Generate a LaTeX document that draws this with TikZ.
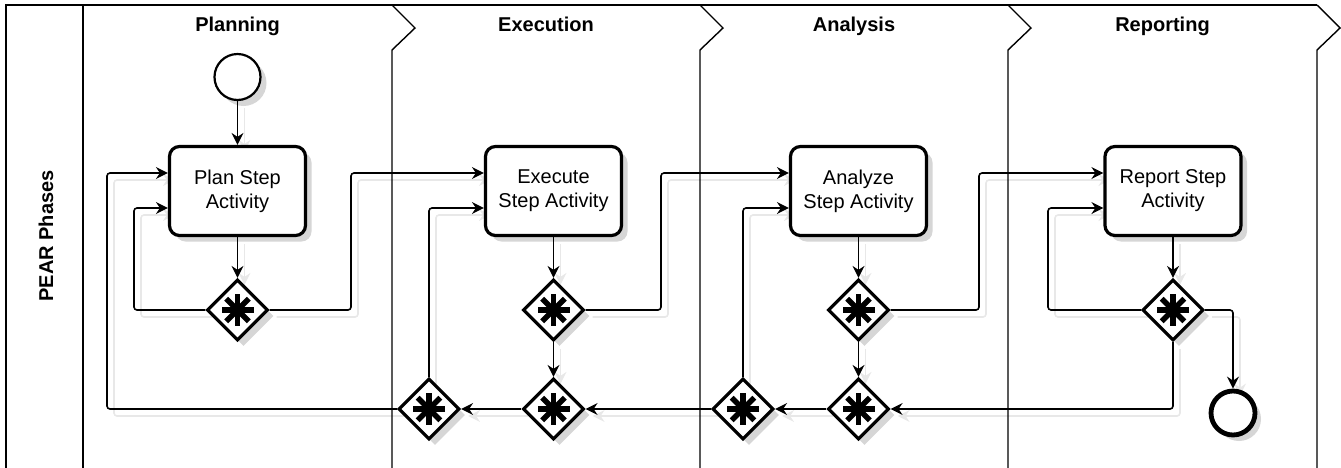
\documentclass[tikz,border=0pt]{standalone}
\usepackage{fontspec}
\setmainfont{Liberation Sans}
\usetikzlibrary{shapes.geometric,shadows,arrows.meta,calc}
\pgfdeclarelayer{bg}
\pgfsetlayers{bg,main}
\tikzset{
  lane/.style={draw=black, line width=1.4pt},
  lanetitle/.style={font=\bfseries\fontsize{20}{24}\selectfont, inner sep=0pt},
  shapeshadow/.style={drop shadow={shadow xshift=6pt, shadow yshift=-6pt, fill=black!16, opacity=1}},
  task/.style={draw, line width=3.2pt, rounded corners=10pt, fill=white, minimum width=136pt, minimum height=89pt,
    inner sep=0pt, align=center, font=\fontsize{20}{24}\selectfont, shapeshadow},
  gw/.style={diamond, draw, line width=3.2pt, fill=white, minimum width=61pt, minimum height=61pt, inner sep=0pt, shapeshadow,
    path picture={\foreach \a in {0,45,90,135}{\draw[line width=5.5pt, line cap=butt] (path picture bounding box.center) ++(\a:16pt) -- ++(\a+180:32pt);}}},
  startev/.style={circle, draw, line width=2.2pt, fill=white, minimum size=46pt, inner sep=0pt, shapeshadow},
  endev/.style={circle, draw, line width=4.8pt, fill=white, minimum size=44pt, inner sep=0pt, shapeshadow},
  conn/.style={line width=1.6pt, rounded corners=3pt, -{Stealth[length=12pt,width=12pt,inset=4pt]}}
}
\newcommand\drawconns[1]{%
  \draw[conn,draw=#1] (start.south) -- (plan.north);
  \draw[conn,draw=#1] (plan.south) -- (g1.north);
  \draw[conn,draw=#1] (g1.west) -| (x1 |- yB) -- (plan.west |- yB);
  \draw[conn,draw=#1] (g1.east) -| (x2 |- yA) -- (exec.west |- yA);
  \draw[conn,draw=#1] (g4.west) -| (x0 |- yA) -- (plan.west |- yA);
  \draw[conn,draw=#1] (g4.north) |- (exec.west |- yB);
  \draw[conn,draw=#1] (exec.south) -- (g2.north);
  \draw[conn,draw=#1] (g2.south) -- (g3.north);
  \draw[conn,draw=#1] (g3.west) -- (g4.east);
  \draw[conn,draw=#1] (g2.east) -| (x3 |- yA) -- (anal.west |- yA);
  \draw[conn,draw=#1] (g7.west) -- (g3.east);
  \draw[conn,draw=#1] (g7.north) |- (anal.west |- yB);
  \draw[conn,draw=#1] (anal.south) -- (g5.north);
  \draw[conn,draw=#1] (g5.south) -- (g6.north);
  \draw[conn,draw=#1] (g6.west) -- (g7.east);
  \draw[conn,draw=#1] (g5.east) -| (x4 |- yA) -- (rep.west |- yA);
  \draw[conn,draw=#1] (g8.south) |- (g6.east);
  \draw[conn,draw=#1] (rep.south) -- (g8.north);
  \draw[conn,draw=#1] (g8.west) -| (x5 |- yB) -- (rep.west |- yB);
  \draw[conn,draw=#1] (g8.east) -| (endev.north);
}
\begin{document}
\begin{tikzpicture}[x=1pt,y=-1pt]
\useasboundingbox (0,0) rectangle (1341,467);
% pool and lanes
\draw[lane] (6,470) -- (6,5) -- (1317,5);
\draw[lane] (83,5) -- (83,470);
\foreach \xr in {392,700,1008,1317}{\draw[lane] (\xr,5) -- (\xr+23,28) -- (\xr,50) -- (\xr,470);}
\node[lanetitle, anchor=base] (tplan) at (237.5,31.5) {Planning};
\node[lanetitle, anchor=base] (texec) at (546,31.5) {Execution};
\node[lanetitle, anchor=base] (tanal) at (854,31.5) {Analysis};
\node[lanetitle, anchor=base] (trep) at (1162.5,31.5) {Reporting};
\node[lanetitle, rotate=90] (pool) at (46,236) {PEAR Phases};
% helper coordinates
\coordinate (yA) at (0,173);
\coordinate (yB) at (0,208);
\coordinate (x0) at (107,0);
\coordinate (x1) at (134,0);
\coordinate (x2) at (351,0);
\coordinate (x3) at (661,0);
\coordinate (x4) at (979,0);
\coordinate (x5) at (1048,0);
% nodes
\node[startev] (start) at (237.5,77) {};
\node[task] (plan) at (237.5,191) {Plan Step\\Activity};
\node[task] (exec) at (553.5,191) {Execute\\Step Activity};
\node[task] (anal) at (858.5,191) {Analyze\\Step Activity};
\node[task] (rep) at (1173,191) {Report Step\\Activity};
\node[gw] (g1) at (237.5,310) {};
\node[gw] (g2) at (553.5,310) {};
\node[gw] (g3) at (553.5,409) {};
\node[gw] (g4) at (429,409) {};
\node[gw] (g5) at (858.5,310) {};
\node[gw] (g6) at (858.5,409) {};
\node[gw] (g7) at (743,409) {};
\node[gw] (g8) at (1173,310) {};
\node[endev] (endev) at (1233,413) {};
% connectors
\begin{pgfonlayer}{bg}
\begin{scope}[transform canvas={shift={(7pt,-7pt)}}]
\drawconns{black!9}
\end{scope}
\end{pgfonlayer}
\drawconns{black}
\end{tikzpicture}
\end{document}
